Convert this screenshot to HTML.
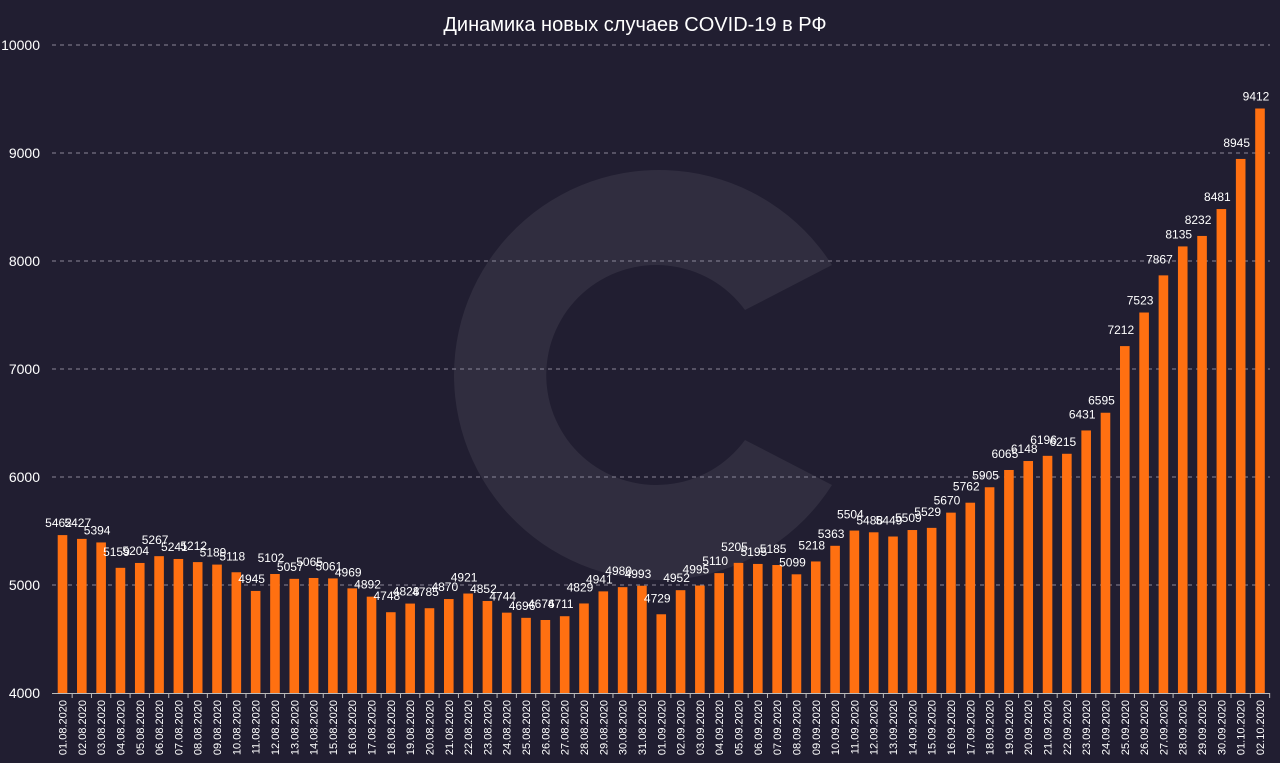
<!DOCTYPE html>
<html><head><meta charset="utf-8"><style>
html,body{margin:0;padding:0;background:#211e31;}
svg{display:block;font-family:"Liberation Sans",sans-serif;}
</style></head><body>
<svg id="chart" width="1280" height="763">
<rect width="1280" height="763" fill="#211e31"/>
<g opacity="0.07">
<path d="M832,265 A205,205 0 1 0 832,485 L745,440 A110,110 0 1 1 745,310 Z" fill="#ffffff"/>
</g>
<text x="635" y="31" fill="#ffffff" font-size="20" text-anchor="middle">Динамика новых случаев COVID-19 в РФ</text>
<g id="grid"></g><g id="bars"></g><g id="labels"></g><g id="xaxis"></g>
</svg>
<script>
const dates=["01.08.2020","02.08.2020","03.08.2020","04.08.2020","05.08.2020","06.08.2020","07.08.2020","08.08.2020","09.08.2020","10.08.2020","11.08.2020","12.08.2020","13.08.2020","14.08.2020","15.08.2020","16.08.2020","17.08.2020","18.08.2020","19.08.2020","20.08.2020","21.08.2020","22.08.2020","23.08.2020","24.08.2020","25.08.2020","26.08.2020","27.08.2020","28.08.2020","29.08.2020","30.08.2020","31.08.2020","01.09.2020","02.09.2020","03.09.2020","04.09.2020","05.09.2020","06.09.2020","07.09.2020","08.09.2020","09.09.2020","10.09.2020","11.09.2020","12.09.2020","13.09.2020","14.09.2020","15.09.2020","16.09.2020","17.09.2020","18.09.2020","19.09.2020","20.09.2020","21.09.2020","22.09.2020","23.09.2020","24.09.2020","25.09.2020","26.09.2020","27.09.2020","28.09.2020","29.09.2020","30.09.2020","01.10.2020","02.10.2020"];
const cases=[5462,5427,5394,5159,5204,5267,5241,5212,5189,5118,4945,5102,5057,5065,5061,4969,4892,4748,4828,4785,4870,4921,4852,4744,4696,4676,4711,4829,4941,4980,4993,4729,4952,4995,5110,5205,5195,5185,5099,5218,5363,5504,5488,5449,5509,5529,5670,5762,5905,6065,6148,6196,6215,6431,6595,7212,7523,7867,8135,8232,8481,8945,9412];
const yTicks=[4000,5000,6000,7000,8000,9000,10000];
const NS="http://www.w3.org/2000/svg";
const y0=693,yTop=45,vMin=4000,vMax=10000;
const y=v=>y0-(v-vMin)/(vMax-vMin)*(y0-yTop);
const x0=62.5,step=(1260-62.5)/(dates.length-1);
const x=i=>x0+i*step;
function mk(t,a,p){const e=document.createElementNS(NS,t);for(const k in a)e.setAttribute(k,a[k]);p.appendChild(e);return e;}
const grid=document.getElementById('grid'),bars=document.getElementById('bars'),labels=document.getElementById('labels'),xa=document.getElementById('xaxis');
yTicks.forEach(v=>{
  if(v>vMin){const l=mk('line',{x1:52,x2:1270,y1:y(v),y2:y(v),stroke:'#8a8798','stroke-dasharray':'4,4','stroke-width':1},grid);
  
  }
  const t=mk('text',{x:40,y:y(v)+5,fill:'#ffffff','font-size':14,'text-anchor':'end'},grid);
  t.textContent=v;
  
  
});
const ax=mk('line',{x1:52,x2:1270,y1:y0+0.5,y2:y0+0.5,stroke:'#bbbbbb','stroke-width':1},xa);


cases.forEach((v,i)=>{
  const r=mk('rect',{x:x(i)-4.8,y:y(v),width:9.6,height:y0-y(v),fill:'#ff7011'},bars);
  
  
  const t=mk('text',{x:x(i)-4,y:y(v)-(i%2?12:8),fill:'#ffffff','font-size':12,'text-anchor':'middle'},labels);
  t.textContent=v;
  
  
  const tk=mk('line',{x1:x(i)+step/2,x2:x(i)+step/2,y1:y0,y2:y0+5,stroke:'#bbbbbb'},xa);
  
  
  const d=mk('text',{x:0,y:0,fill:'#ffffff','font-size':11,'text-anchor':'end',transform:`translate(${x(i)+4},${y0+7}) rotate(-90)`},xa);
  d.textContent=dates[i];
  
  
});
</script>
</body></html>
